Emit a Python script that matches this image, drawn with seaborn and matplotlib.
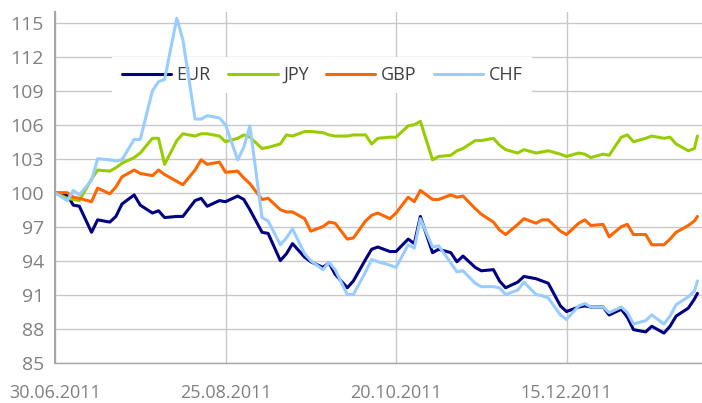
import pandas as pd
import matplotlib.pyplot as plt
import seaborn as sns

# every second business day, plus the last day shown
dates = list(pd.bdate_range("2011-06-30", "2012-01-27")[::2]) + [pd.Timestamp("2012-01-27")]

eur = [100, 99.8, 98.9, 98.8, 96.5, 97.6, 97.4, 97.9, 99.0, 99.8,
       98.9, 98.2, 98.4, 97.8, 97.9, 97.9, 99.3, 99.5, 98.8, 99.3,
       99.2, 99.7, 99.4, 98.5, 96.5, 96.4, 94.0, 94.6, 95.5, 94.3,
       93.9, 93.4, 93.8, 92.8, 91.6, 92.2, 94.1, 95.0, 95.2, 94.8,
       94.8, 95.9, 95.5, 97.9, 94.7, 95.0, 94.7, 93.9, 94.4, 93.4,
       93.1, 93.2, 92.2, 91.6, 92.1, 92.6, 92.4, 92.2, 92.0, 90.0,
       89.5, 89.9, 90.0, 89.9, 89.9, 89.2, 89.7, 89.0, 87.9, 87.7,
       88.2, 87.6, 88.2, 89.1, 89.8, 90.6, 91.1]
jpy = [100, 99.5, 99.4, 99.3, 101.2, 102.0, 101.9, 102.2, 102.6, 103.1,
       103.5, 104.8, 104.8, 102.5, 104.6, 105.2, 105.0, 105.2, 105.2, 105.0,
       104.5, 104.8, 105.1, 104.9, 103.9, 104.0, 104.3, 105.1, 105.0, 105.4,
       105.4, 105.3, 105.1, 105.0, 105.0, 105.1, 105.1, 104.3, 104.8, 104.9,
       104.9, 105.9, 106.0, 106.3, 102.9, 103.2, 103.3, 103.7, 103.9, 104.6,
       104.6, 104.8, 104.2, 103.8, 103.5, 103.8, 103.5, 103.6, 103.7, 103.4,
       103.2, 103.5, 103.4, 103.1, 103.4, 103.3, 104.9, 105.1, 104.5, 104.8,
       105.0, 104.8, 104.9, 104.3, 103.7, 103.9, 105.0]
gbp = [100, 100.0, 99.6, 99.5, 99.2, 100.4, 99.9, 100.5, 101.4, 102.0,
       101.7, 101.5, 102.0, 101.6, 101.0, 100.7, 102.0, 102.9, 102.5, 102.7,
       101.8, 101.9, 101.3, 100.8, 99.4, 99.5, 98.5, 98.3, 98.3, 97.7,
       96.6, 97.0, 97.4, 97.3, 95.9, 96.0, 97.5, 98.0, 98.2, 97.7,
       98.2, 99.6, 99.2, 100.2, 99.4, 99.4, 99.8, 99.6, 99.7, 98.6,
       98.1, 97.4, 96.7, 96.3, 97.2, 97.7, 97.3, 97.6, 97.6, 96.6,
       96.3, 97.3, 97.6, 97.1, 97.2, 96.1, 97.0, 97.2, 96.3, 96.3,
       95.4, 95.4, 95.9, 96.5, 97.1, 97.5, 97.9]
chf = [100, 99.3, 100.2, 99.8, 101.1, 103.0, 102.9, 102.8, 102.9, 104.7,
       104.7, 109.0, 109.8, 110.0, 115.4, 113.5, 106.5, 106.5, 106.8, 106.6,
       106.0, 102.9, 104.0, 105.9, 97.8, 97.5, 95.4, 96.0, 96.8, 94.6,
       94.0, 93.2, 93.85, 93.2, 91.0, 91.0, 93.0, 94.1, 93.9, 93.6,
       93.4, 95.4, 95.1, 97.7, 95.2, 95.3, 93.8, 93.0, 93.1, 92.0,
       91.7, 91.7, 91.6, 91.0, 91.4, 92.1, 91.0, 90.9, 90.7, 89.2,
       88.8, 90.0, 90.2, 89.9, 89.9, 89.4, 89.9, 89.4, 88.4, 88.7,
       89.2, 88.4, 89.1, 90.1, 90.8, 91.3, 92.2]

currencies = ["EUR", "JPY", "GBP", "CHF"]
colors = {"EUR": "#000080", "JPY": "#99CC00", "GBP": "#FF6600", "CHF": "#99CCFF"}
y_ticks = [85, 88, 91, 94, 97, 100, 103, 106, 109, 112, 115]
x_ticks = pd.to_datetime(["2011-06-30", "2011-08-25", "2011-10-20", "2011-12-15"])

df = pd.DataFrame({"date": dates, "EUR": eur, "JPY": jpy, "GBP": gbp, "CHF": chf})
long_df = df.melt(id_vars="date", var_name="currency", value_name="index")

sns.set_theme(style="white")
plt.rcParams["font.family"] = ["Open Sans", "DejaVu Sans"]

fig = plt.figure(figsize=(7.02, 4.03), dpi=100)
ax = fig.add_axes([55 / 702, 40.5 / 403, 647 / 702, 351 / 403])

sns.lineplot(data=long_df, x="date", y="index", hue="currency", hue_order=currencies,
             palette=colors, linewidth=2.2, ax=ax)

grid_c = "#c8c8c8"
ax.set_axisbelow(True)
ax.grid(True, color=grid_c, linewidth=1.0)
ax.set_xlim(pd.Timestamp("2011-06-30"), pd.Timestamp("2011-06-30") + pd.Timedelta(days=212.5))
ax.set_ylim(85, 116)
ax.set_yticks(y_ticks)
ax.set_xticks(x_ticks)
ax.set_xticklabels([d.strftime("%d.%m.%Y") for d in x_ticks])
ax.set_xlabel("")
ax.set_ylabel("")

for side in ["top", "right"]:
    ax.spines[side].set_visible(False)
ax.spines["left"].set_color("#a6a6a6")
ax.spines["left"].set_linewidth(1.5)
ax.spines["bottom"].set_color("#a6a6a6")
ax.spines["bottom"].set_linewidth(1.0)

ax.tick_params(axis="x", length=8, width=1, color="#a6a6a6", pad=7.5,
               labelsize=13, labelcolor="#808080")
ax.tick_params(axis="y", length=6, width=1, color="#a6a6a6", pad=2,
               labelsize=14, labelcolor="#808080")

handles, labels = ax.get_legend_handles_labels()
leg = ax.legend(handles, labels, ncol=4, loc="center", bbox_to_anchor=(0.4127, 0.819),
                frameon=True, facecolor="white", edgecolor="none", framealpha=1,
                fancybox=False, handlelength=2.75, handletextpad=0.3,
                columnspacing=0.95, borderpad=0.5, fontsize=13, labelcolor="#404040")
leg.set_zorder(1.5)

fig.savefig("out.png", dpi=100)
